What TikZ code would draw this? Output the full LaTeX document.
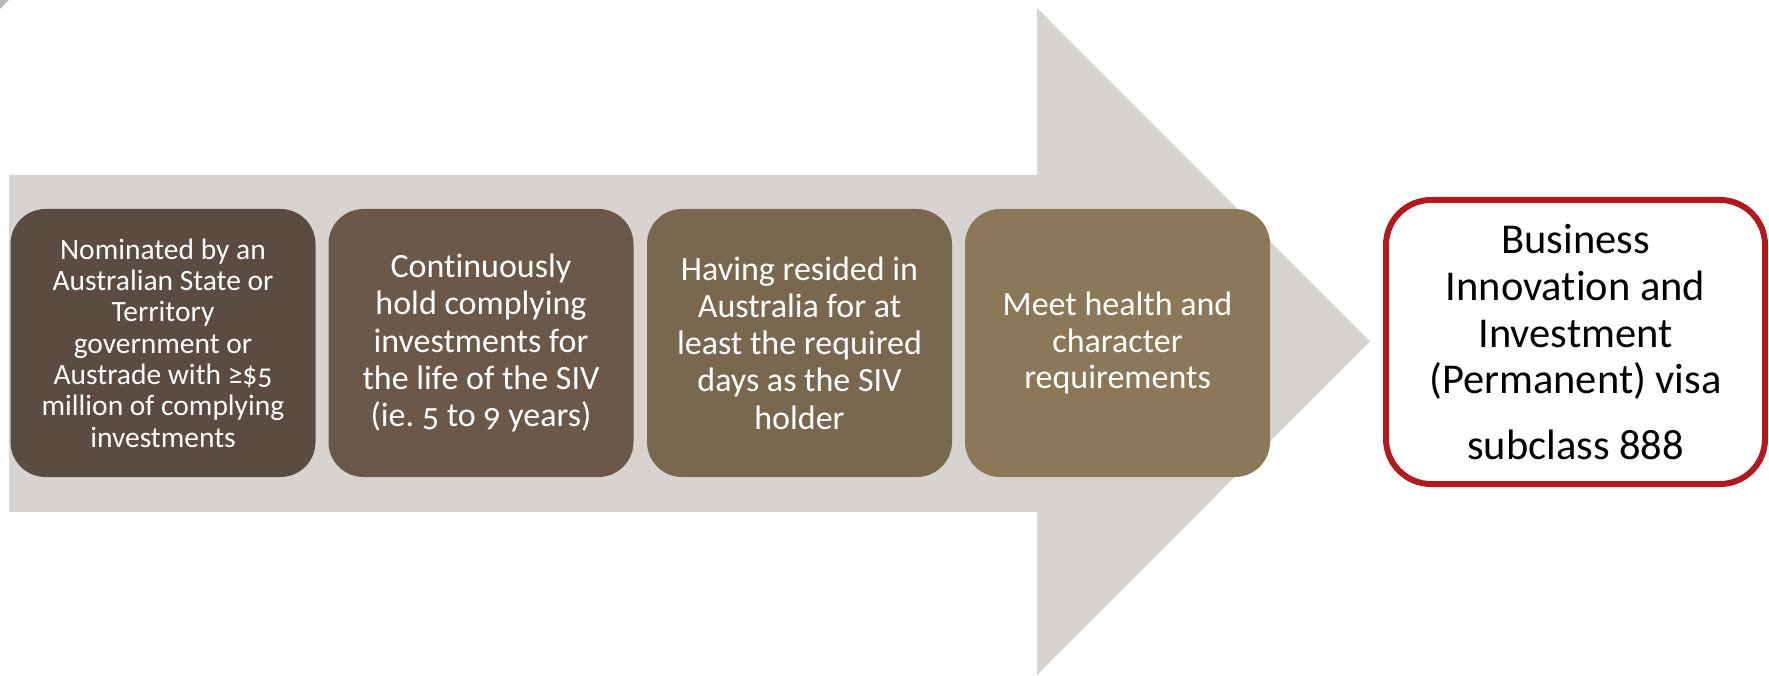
\documentclass[tikz,border=0pt]{standalone}
\usepackage{fontspec}
\setmainfont[Ligatures=NoCommon]{Carlito}
\newfontfamily\stepfont[Ligatures=NoCommon,Numbers=OldStyle]{Carlito}
\frenchspacing
\definecolor{arrowgrey}{HTML}{D7D3D0}
\definecolor{cornergrey}{HTML}{B8B6BA}
\definecolor{stepA}{HTML}{5B4B42}
\definecolor{stepB}{HTML}{6B5849}
\definecolor{stepC}{HTML}{7A6750}
\definecolor{stepD}{HTML}{8A7858}
\definecolor{visared}{HTML}{B0191E}
\tikzset{
  stepbox/.style={rectangle, rounded corners=35pt, minimum width=305pt,
    minimum height=268pt, inner sep=0pt, align=center, text=white},
  visabox/.style={rectangle, rounded corners=45pt, draw=visared, line width=6pt,
    fill=white, minimum width=379pt, minimum height=284pt, inner sep=0pt,
    align=center, text=black},
}
\begin{document}
\begin{tikzpicture}[x=1pt, y=-1pt]
  \useasboundingbox (0,0) rectangle (1769,676);
  % small corner mark
  \fill[cornergrey] (0,0) -- (9,0) -- (0,9) -- cycle;
  % background block arrow
  \fill[arrowgrey] (9,175) -- (1037,175) -- (1037,8) -- (1370,341.5)
    -- (1037,675) -- (1037,512) -- (9,512) -- cycle;
  % the four steps
  \node[stepbox, fill=stepA,
    font=\stepfont\fontsize{29.5}{31.3}\selectfont] (s1) at (163,343)
    {Nominated by an\\Australian State or\\Territory\\government or\\Austrade with ≥\$5\\million of complying\\investments};
  \node[stepbox, fill=stepB,
    font=\stepfont\fontsize{34}{37.3}\selectfont] (s2) at (481,343)
    {Continuously\\hold complying\\investments for\\the life of the SIV\\(ie. 5 to 9 years)};
  \node[stepbox, fill=stepC,
    font=\stepfont\fontsize{34}{37.3}\selectfont] (s3) at (799.5,343)
    {Having resided in\\Australia for at\\least the required\\days as the SIV\\holder};
  \node[stepbox, fill=stepD,
    font=\stepfont\fontsize{34}{36.8}\selectfont] (s4) at (1117.5,343)
    {Meet health and\\character\\requirements};
  % outcome
  \node[visabox, font=\fontsize{42.5}{46.7}\selectfont] (visa) at (1575.5,342)
    {Business\\Innovation and\\Investment\\(Permanent) visa\\[18.6pt]subclass 888};
\end{tikzpicture}
\end{document}
